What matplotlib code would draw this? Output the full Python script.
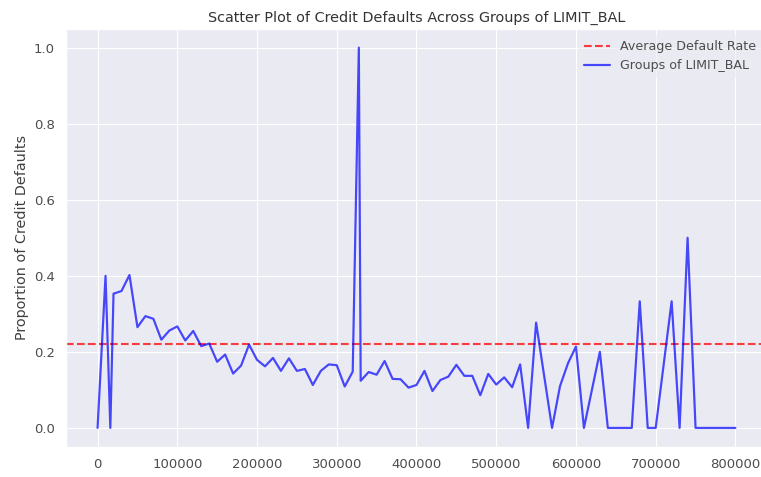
import matplotlib
matplotlib.use("Agg")
import matplotlib.pyplot as plt
import seaborn as sns

# LIMIT_BAL groups and share of defaults in each group
limit_bal = [0, 10000, 16000, 20000, 30000, 40000, 50000, 60000, 70000, 80000,
             90000, 100000, 110000, 120000, 130000, 140000, 150000, 160000, 170000,
             180000, 190000, 200000, 210000, 220000, 230000, 240000, 250000, 260000,
             270000, 280000, 290000, 300000, 310000, 320000, 327680, 330000, 340000,
             350000, 360000, 370000, 380000, 390000, 400000, 410000, 420000, 430000,
             440000, 450000, 460000, 470000, 480000, 490000, 500000, 510000, 520000,
             530000, 540000, 550000, 570000, 580000, 590000, 600000, 610000, 630000,
             640000, 650000, 660000, 670000, 680000, 690000, 700000, 720000, 730000,
             740000, 750000, 760000, 780000, 800000]
default_rate = [0.0, 0.40, 0.0, 0.353, 0.36, 0.402, 0.265, 0.294, 0.287, 0.232,
                0.256, 0.267, 0.230, 0.255, 0.215, 0.222, 0.174, 0.193, 0.143,
                0.164, 0.219, 0.179, 0.162, 0.184, 0.150, 0.183, 0.150, 0.155,
                0.113, 0.150, 0.167, 0.165, 0.109, 0.148, 1.0, 0.124, 0.147,
                0.140, 0.176, 0.129, 0.128, 0.106, 0.113, 0.150, 0.097, 0.126,
                0.135, 0.166, 0.137, 0.137, 0.086, 0.142, 0.114, 0.133, 0.107,
                0.167, 0.0, 0.277, 0.0, 0.11, 0.17, 0.214, 0.0, 0.2,
                0.0, 0.0, 0.0, 0.0, 0.333, 0.0, 0.0, 0.333, 0.0,
                0.5, 0.0, 0.0, 0.0, 0.0]
avg_default = 0.2212

sns.set_theme(style="darkgrid")

dpi = 83
fig = plt.figure(figsize=(761 / dpi, 477 / dpi), dpi=dpi)
ax = fig.add_axes([0.0863, 0.063, 0.922, 0.877])

ax.axhline(avg_default, color="red", linestyle="--", lw=1.8, alpha=0.75,
           label="Average Default Rate")
ax.plot(limit_bal, default_rate, color="blue", lw=1.9, alpha=0.7,
        label="Groups of LIMIT_BAL")

ax.set_xticks([0, 100000, 200000, 300000, 400000, 500000, 600000, 700000, 800000])
ax.ticklabel_format(axis="x", style="plain")
ax.tick_params(labelsize=11.5, labelcolor="0.3")
ax.set_ylabel("Proportion of Credit Defaults", fontsize=12.5, color="0.25")
ax.set_title("Scatter Plot of Credit Defaults Across Groups of LIMIT_BAL",
             fontsize=12.5, color="0.2")
leg = ax.legend(loc="upper right", fontsize=11, frameon=True, facecolor="#EAEAF2",
                edgecolor="#EAEAF2", framealpha=0.6)
for t in leg.get_texts():
    t.set_color("0.3")

fig.savefig("out.png", dpi=dpi)
